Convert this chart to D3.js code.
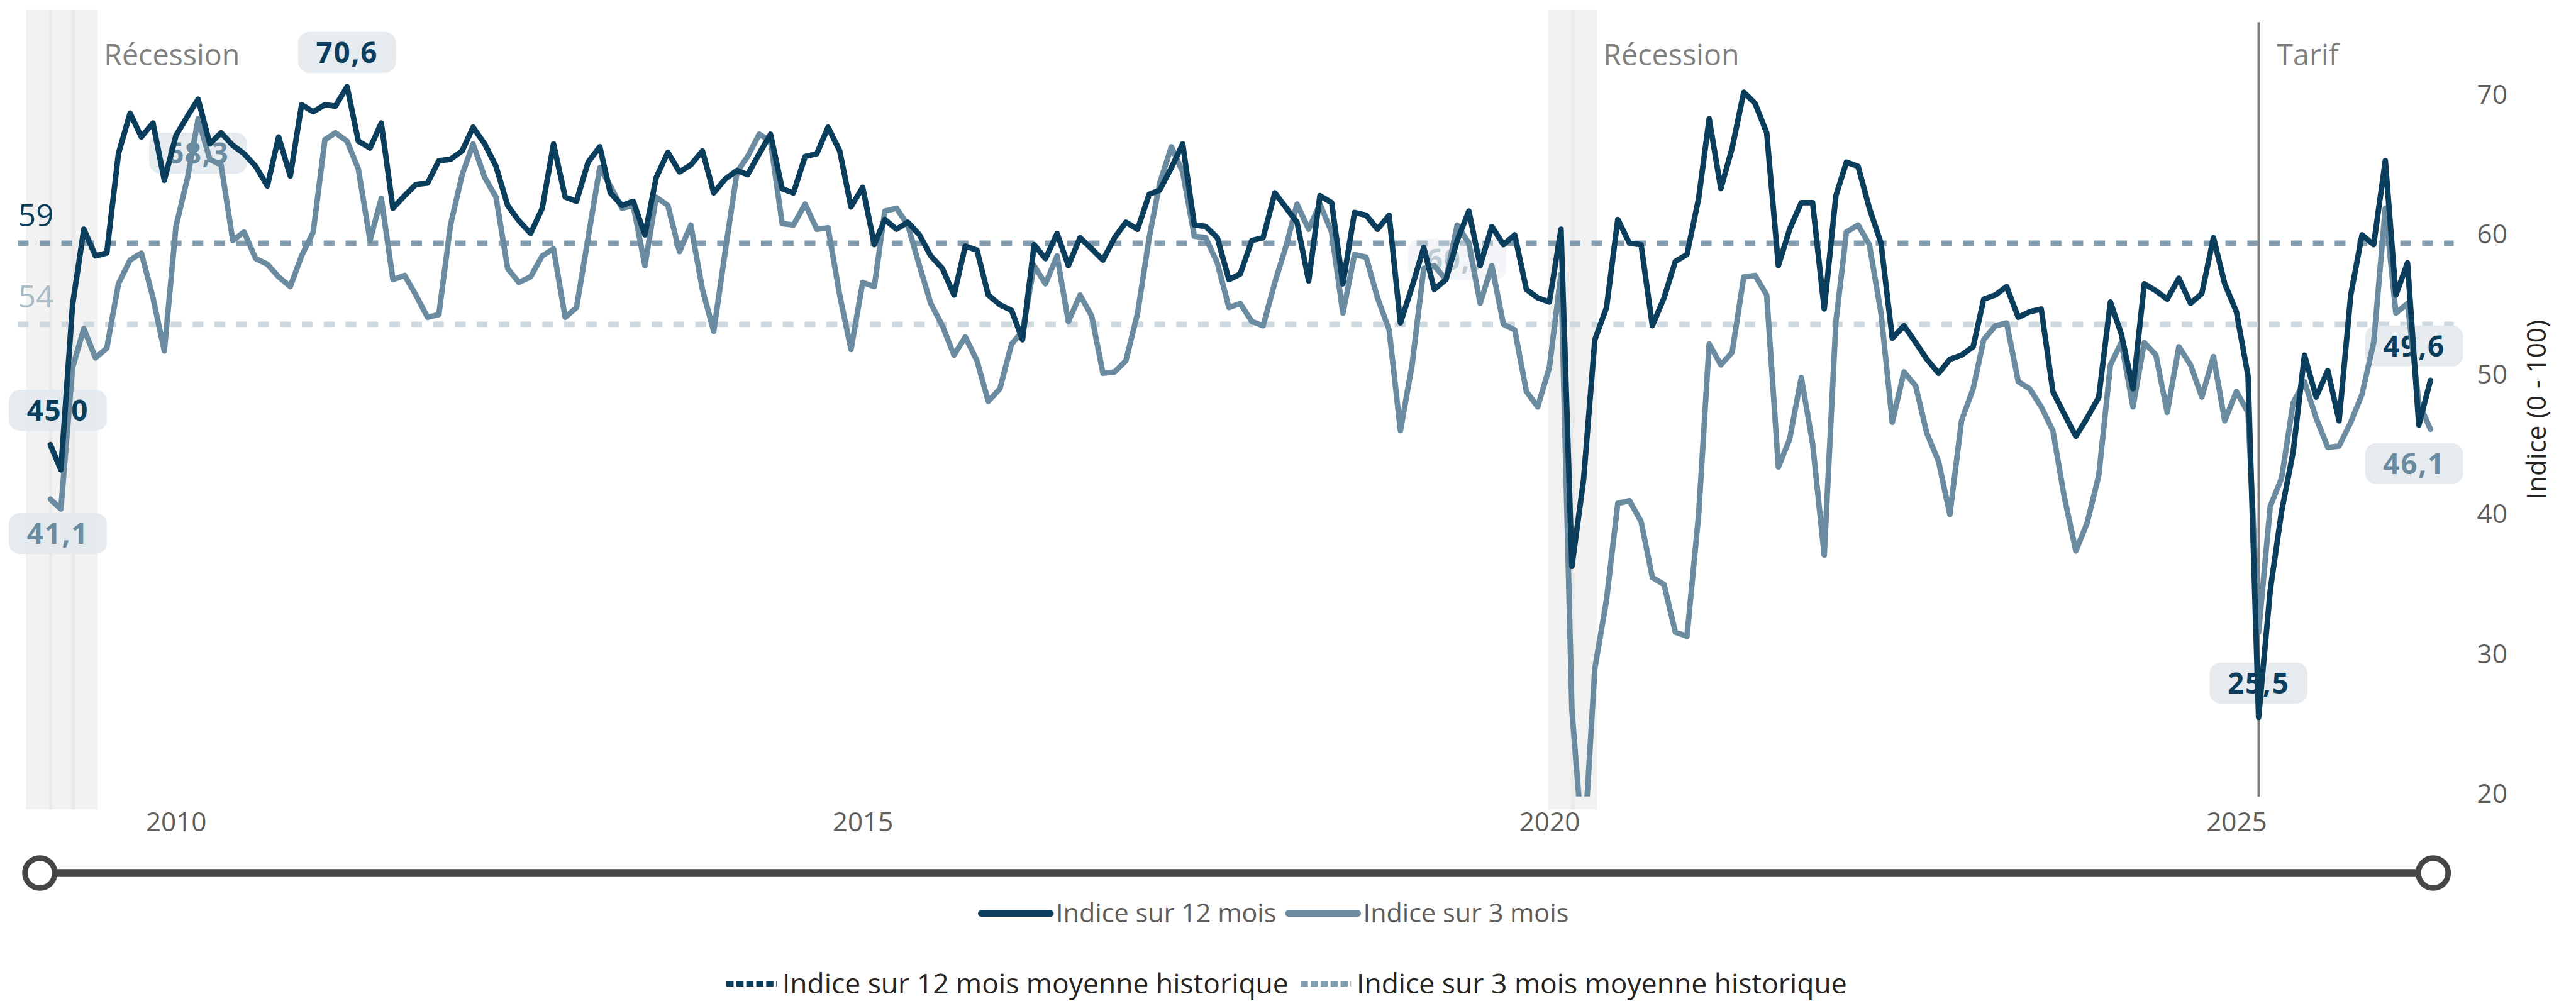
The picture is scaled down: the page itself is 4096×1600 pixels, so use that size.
<!DOCTYPE html>
<html>
<head>
<meta charset="utf-8">
<script src="https://cdn.jsdelivr.net/npm/d3@7/dist/d3.min.js"></script>
<style>
  html, body { margin: 0; padding: 0; background: #fff; }
  svg { display: block; }
  text { font-family: 'Open Sans', 'Noto Sans', sans-serif; }
</style>
</head>
<body>
<div id="chart"></div>
<script>
// monthly survey, first month = Feb 2009
var startMonth = '2009-02-01'

var index12 = [
  45.0, 43.2, 55.0, 60.4, 58.5, 58.7, 65.8, 68.7, 67.0, 68.0, 63.9, 67.1,
  68.5, 69.7, 66.5, 67.3, 66.4, 65.8, 64.9, 63.5, 67.0, 64.2, 69.3, 68.8,
  69.3, 69.2, 70.6, 66.7, 66.2, 68.0, 61.9, 62.8, 63.6, 63.7, 65.3, 65.4,
  66.0, 67.7, 66.5, 64.9, 62.1, 61.0, 60.1, 61.9, 66.5, 62.7, 62.4, 65.2,
  66.3, 63.0, 62.1, 62.4, 60.0, 64.1, 65.9, 64.5, 65.0, 66.0, 63.0, 64.0,
  64.6, 64.3, 65.8, 67.2, 63.3, 63.0, 65.6, 65.8, 67.7, 66.0, 62.0, 63.4,
  59.3, 61.1, 60.4, 60.9, 60.0, 58.5, 57.6, 55.7, 59.2, 58.9, 55.7, 55.0,
  54.6, 52.5, 59.3, 58.3, 60.1, 57.8, 59.8, 59.0, 58.2, 59.8, 60.9, 60.4,
  62.9, 63.2, 64.8, 66.5, 60.7, 60.6, 59.8, 56.8, 57.2, 59.6, 59.8, 63.0,
  61.9, 60.9, 56.7, 62.8, 62.3, 56.5, 61.6, 61.4, 60.4, 61.4, 53.7, 56.3,
  59.1, 56.1, 56.8, 59.6, 61.7, 57.8, 60.6, 59.3, 60.0, 56.1, 55.5, 55.2,
  60.4, 36.3, 42.5, 52.5, 54.8, 61.1, 59.4, 59.3, 53.5, 55.5, 58.1, 58.6,
  62.6, 68.3, 63.3, 66.2, 70.2, 69.4, 67.3, 57.8, 60.4, 62.3, 62.3, 54.7,
  62.8, 65.2, 64.9, 61.9, 59.4, 52.6, 53.5, 52.3, 51.1, 50.1, 51.1, 51.4,
  52.0, 55.4, 55.7, 56.3, 54.1, 54.5, 54.7, 48.8, 47.2, 45.6, 46.9, 48.4,
  55.2, 52.9, 49.0, 56.5, 56.0, 55.4, 56.9, 55.1, 55.8, 59.8, 56.5, 54.5,
  49.9, 25.5, 34.6, 40.2, 44.5, 51.4, 48.4, 50.3, 46.7, 55.7, 60.0, 59.3,
  65.3, 55.7, 58.0, 46.4, 49.6
]

var index3 = [
  41.1, 40.4, 50.5, 53.3, 51.2, 51.9, 56.5, 58.2, 58.7, 55.5, 51.7, 60.6,
  64.1, 68.3, 65.4, 65.0, 59.6, 60.2, 58.3, 57.9, 57.0, 56.3, 58.5, 60.2,
  66.8, 67.3, 66.7, 64.7, 59.6, 62.6, 56.8, 57.1, 55.7, 54.1, 54.3, 60.7,
  64.3, 66.5, 64.1, 62.7, 57.6, 56.6, 57.0, 58.5, 59.0, 54.1, 54.8, 59.8,
  64.8, 63.5, 61.9, 62.1, 57.8, 62.7, 62.1, 58.8, 60.7, 56.1, 53.1, 58.9,
  64.5, 65.6, 67.2, 66.7, 60.8, 60.7, 62.2, 60.4, 60.5, 55.7, 51.8, 56.6,
  56.3, 61.7, 61.9, 60.7, 57.8, 55.1, 53.5, 51.4, 52.7, 51.0, 48.1, 49.0,
  52.2, 53.1, 57.8, 56.5, 58.5, 53.8, 55.7, 54.2, 50.1, 50.2, 51.0, 54.4,
  59.8, 63.7, 66.3, 64.5, 59.9, 59.8, 58.0, 54.8, 55.1, 53.8, 53.5, 56.6,
  59.3, 62.2, 60.4, 62.2, 60.2, 54.4, 58.6, 58.4, 55.5, 53.2, 46.0, 50.7,
  57.6, 57.8, 56.8, 60.7, 59.4, 55.1, 57.8, 53.6, 53.2, 48.8, 47.7, 50.5,
  57.2, 26.0, 15.6, 29.0, 33.9, 40.8, 41.0, 39.5, 35.5, 35.0, 31.6, 31.3,
  40.0, 52.2, 50.7, 51.6, 57.0, 57.1, 55.7, 43.4, 45.4, 49.8, 45.1, 37.1,
  53.8, 60.2, 60.7, 59.3, 54.4, 46.6, 50.2, 49.2, 45.8, 43.8, 40.0, 46.7,
  49.0, 52.5, 53.5, 53.7, 49.5, 49.0, 47.7, 46.0, 41.3, 37.4, 39.4, 42.8,
  50.7, 52.3, 47.7, 52.3, 51.4, 47.3, 52.0, 50.7, 48.4, 51.3, 46.7, 48.8,
  47.3, 31.6, 40.6, 42.6, 48.0, 49.5, 46.9, 44.8, 44.9, 46.6, 48.6, 52.3,
  61.9, 54.4, 55.1, 48.0, 46.1
]

var avg12 = 59.4
var avg3 = 53.6

var yearTicks = [2010, 2015, 2020, 2025]
var valueTicks = [20, 30, 40, 50, 60, 70]

var recessions = [
  ['2008-12-01', '2009-02-01', '2009-04-01'],
  ['2020-01-01', '2020-03-01']
]
var tarifDate = '2025-03-01'

// which months get a value bubble
var labels12 = [0, 26, 193, 208]
var labels3 = [0, 13, 123, 208]
var faintLabels3 = [123]

var seriesNames = ['Indice sur 12 mois', 'Indice sur 3 mois']
var avgNames = ['Indice sur 12 mois moyenne historique', 'Indice sur 3 mois moyenne historique']

var COLORS = {
  s12: '#0B3D5C',
  s3: '#6B8BA0',
  avg12: '#829DB0',
  avg3: '#CDD8DF',
  avg3Text: '#A8BBC7',
  tick: '#605E5C',
  note: '#7F7F7F',
  title: '#252423',
  shade: '#E0E0E0',
  bubble: '#E3E9EE',
  slider: '#484644'
}

var W = 4655
var H = 1818
var S = 4096 / W

var parse = d3.timeParse('%Y-%m-%d')
var start = parse(startMonth)
var months = index12.map(function (d, i) { return d3.timeMonth.offset(start, i) })
var fr = d3.formatLocale({ decimal: ',', thousands: ' ', grouping: [3], currency: ['', ' $'] })
var fmt1 = fr.format('.1f')

var x = d3.scaleTime()
  .domain([months[0], months[months.length - 1]])
  .range([91, 4392])
var y = d3.scaleLinear().domain([19, 76]).range([1461, 20])

var svg = d3.select('#chart').append('svg')
  .attr('width', 4096)
  .attr('height', 1600)

svg.append('defs').append('clipPath').attr('id', 'plotclip')
  .append('rect')
  .attr('x', 0).attr('y', 0)
  .attr('width', W).attr('height', y(20) + 4)

var g = svg.append('g').attr('transform', 'scale(' + S + ')')

// recession shading, overlapping bars give the darker stripes
var shadeTop = 18
var shadeBottom = 1463
recessions.forEach(function (bars) {
  g.append('g').selectAll('rect').data(bars).enter().append('rect')
    .attr('x', function (d) { return x(parse(d)) - 2 })
    .attr('y', shadeTop)
    .attr('width', function (d) { return x(d3.timeDay.offset(parse(d), 70)) - x(parse(d)) })
    .attr('height', shadeBottom - shadeTop)
    .attr('fill', COLORS.shade)
    .attr('fill-opacity', 0.42)
  var last = parse(bars[bars.length - 1])
  g.append('text')
    .attr('x', x(d3.timeDay.offset(last, 70)) + 9)
    .attr('y', 118)
    .attr('fill', COLORS.note)
    .attr('font-size', 53)
    .text('Récession')
})

// tarif marker
var tx = x(parse(tarifDate))
g.append('line')
  .attr('x1', tx).attr('x2', tx)
  .attr('y1', 40).attr('y2', 1440)
  .attr('stroke', COLORS.note)
  .attr('stroke-width', 4)
g.append('text')
  .attr('x', tx + 33)
  .attr('y', 118)
  .attr('fill', COLORS.note)
  .attr('font-size', 53)
  .text('Tarif')

// historical averages
var avgs = [
  { v: avg12, color: COLORS.avg12, text: COLORS.s12 },
  { v: avg3, color: COLORS.avg3, text: COLORS.avg3Text }
]
avgs.forEach(function (a) {
  g.append('line')
    .attr('x1', 32).attr('x2', 4434)
    .attr('y1', y(a.v)).attr('y2', y(a.v))
    .attr('stroke', a.color)
    .attr('stroke-width', 10)
    .attr('stroke-dasharray', '19.5,20')
  g.append('text')
    .attr('x', 33)
    .attr('y', y(a.v) - 31)
    .attr('fill', a.text)
    .attr('font-size', 56)
    .text(d3.format('.0f')(a.v))
})

// x axis
var xAxis = d3.axisBottom(x)
  .tickValues(yearTicks.map(function (yr) { return new Date(yr, 0, 1) }))
  .tickFormat(d3.timeFormat('%Y'))
  .tickSize(0)
  .tickPadding(0)
var xg = g.append('g').attr('transform', 'translate(0,1468)').call(xAxis)
xg.select('.domain').remove()
xg.selectAll('text')
  .attr('font-size', 48)
  .attr('fill', COLORS.tick)
  .attr('font-family', "'Open Sans', sans-serif")
  .attr('dy', '0.71em')

// y axis on the right
var yAxis = d3.axisRight(y).tickValues(valueTicks).tickSize(0).tickPadding(0)
var yg = g.append('g').attr('transform', 'translate(4476,0)').call(yAxis)
yg.select('.domain').remove()
yg.selectAll('text')
  .attr('font-size', 48)
  .attr('fill', COLORS.tick)
  .attr('font-family', "'Open Sans', sans-serif")

g.append('text')
  .attr('transform', 'translate(4600,' + ((shadeTop + shadeBottom) / 2) + ') rotate(-90)')
  .attr('text-anchor', 'middle')
  .attr('fill', COLORS.title)
  .attr('font-size', 48)
  .text('Indice (0 - 100)')

// value bubbles
function bubble (values, idx, color, above, faint) {
  var w = 177, h = 74
  var px = x(months[idx])
  var py = y(values[idx])
  var cx = Math.max(16 + w / 2, Math.min(4451 - w / 2, px))
  var cy = above ? py - 62 : py + 62
  var b = g.append('g').attr('opacity', faint ? 0.45 : 1)
  b.append('rect')
    .attr('x', cx - w / 2).attr('y', cy - h / 2)
    .attr('width', w).attr('height', h)
    .attr('rx', 20)
    .attr('fill', COLORS.bubble)
    .attr('fill-opacity', 0.9)
  b.append('text')
    .attr('x', cx).attr('y', cy)
    .attr('dy', '0.36em')
    .attr('text-anchor', 'middle')
    .attr('font-size', 52)
    .attr('font-weight', 700)
    .attr('letter-spacing', 2)
    .attr('fill', color)
    .text(fmt1(values[idx]))
}
labels12.forEach(function (i) { bubble(index12, i, COLORS.s12, true, false) })
labels3.forEach(function (i) { bubble(index3, i, COLORS.s3, false, faintLabels3.indexOf(i) >= 0) })

// the two series
var line = d3.line()
  .x(function (d, i) { return x(months[i]) })
  .y(function (d) { return y(d) })

var lines = g.append('g').attr('clip-path', 'url(#plotclip)')
lines.append('path')
  .datum(index3)
  .attr('d', line)
  .attr('fill', 'none')
  .attr('stroke', COLORS.s3)
  .attr('stroke-width', 10)
  .attr('stroke-linejoin', 'round')
  .attr('stroke-linecap', 'round')
lines.append('path')
  .datum(index12)
  .attr('d', line)
  .attr('fill', 'none')
  .attr('stroke', COLORS.s12)
  .attr('stroke-width', 10)
  .attr('stroke-linejoin', 'round')
  .attr('stroke-linecap', 'round')

// range slider under the chart
var sliderY = 1578
g.append('line')
  .attr('x1', 72).attr('x2', 4397)
  .attr('y1', sliderY).attr('y2', sliderY)
  .attr('stroke', COLORS.slider)
  .attr('stroke-width', 14)
g.selectAll('.handle').data([72, 4397]).enter().append('circle')
  .attr('class', 'handle')
  .attr('cx', function (d) { return d })
  .attr('cy', sliderY)
  .attr('r', 27)
  .attr('fill', '#fff')
  .attr('stroke', COLORS.slider)
  .attr('stroke-width', 10)

// legends
function legendRow (names, colors, dashed, cy, cx, textColor, swatchLen, size) {
  var row = g.append('g')
  var cursor = 0
  names.forEach(function (name, i) {
    var item = row.append('g').attr('transform', 'translate(' + cursor + ',0)')
    item.append('line')
      .attr('x1', 0).attr('x2', swatchLen)
      .attr('y1', 0).attr('y2', 0)
      .attr('stroke', colors[i])
      .attr('stroke-width', dashed ? 10 : 12)
      .attr('stroke-linecap', dashed ? 'butt' : 'round')
      .attr('stroke-dasharray', dashed ? '13,5' : null)
    var t = item.append('text')
      .attr('x', swatchLen + 10)
      .attr('dy', '0.35em')
      .attr('font-size', size)
      .attr('fill', textColor)
      .text(name)
    cursor += swatchLen + 10 + t.node().getComputedTextLength() + 22
  })
  var total = cursor - 22
  row.attr('transform', 'translate(' + (cx - total / 2) + ',' + cy + ')')
}
legendRow(seriesNames, [COLORS.s12, COLORS.s3], false, 1651, 2304, COLORS.tick, 125, 47)
legendRow(avgNames, [COLORS.s12, COLORS.avg12], true, 1778, 2325, COLORS.title, 91, 50.5)
</script>
</body>
</html>
